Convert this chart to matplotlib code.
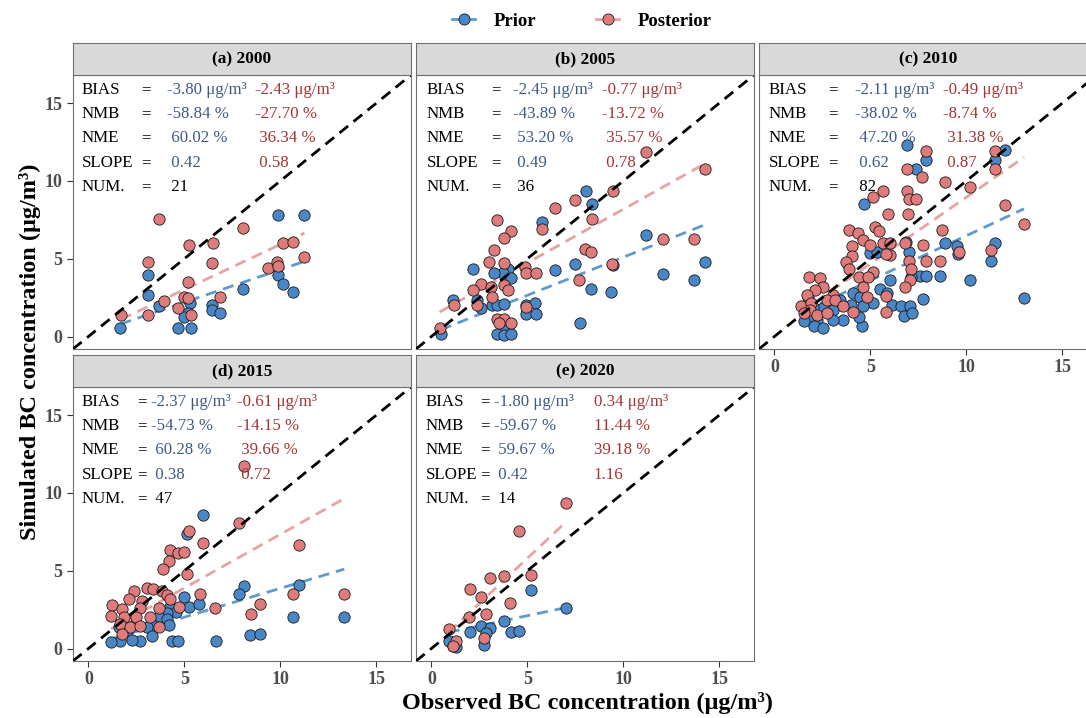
import matplotlib
matplotlib.use("Agg")
import matplotlib.pyplot as plt
from matplotlib.lines import Line2D
import numpy as np

# ---------------- data ----------------
panel_titles = ["(a) 2000", "(b) 2005", "(c) 2010", "(d) 2015", "(e) 2020"]

a_prior_x = [9.86, 11.25, 3.09, 3.09, 8.06, 9.86, 10.14, 10.66, 3.66, 5.28, 5.17, 5.0, 6.46, 6.46, 6.84, 1.67, 4.65, 5.35]
a_prior_y = [7.79, 7.79, 3.96, 2.68, 3.04, 3.96, 3.38, 2.89, 1.94, 2.15, 1.51, 1.26, 2.04, 1.72, 1.51, 0.55, 0.55, 0.55]
a_post_x = [3.66, 8.06, 5.26, 6.48, 3.09, 6.46, 10.14, 10.66, 11.25, 9.34, 9.83, 9.86, 5.17, 3.96, 5.0, 5.17, 6.84, 4.65, 5.35, 3.09, 1.70]
a_post_y = [7.57, 7.0, 5.87, 5.98, 4.81, 4.70, 6.02, 6.08, 5.09, 4.38, 4.81, 4.55, 3.53, 2.30, 2.51, 2.47, 2.51, 1.83, 1.40, 1.36, 1.36]

b_prior_x = [8.07, 8.37, 5.76, 11.2, 14.24, 12.07, 13.66, 2.17, 4.0, 6.46, 7.5, 9.46, 3.73, 4.17, 3.26, 8.30, 9.34,
             1.13, 2.38, 2.60, 3.16, 3.44, 3.78, 4.95, 5.42, 4.95, 5.47, 3.78, 3.44, 3.78, 4.17, 7.72, 0.49]
b_prior_y = [9.38, 8.53, 7.36, 6.55, 4.81, 4.02, 3.64, 4.32, 4.32, 4.28, 4.64, 4.62, 4.06, 3.74, 4.06, 3.04, 2.89,
             2.32, 2.36, 1.83, 2.04, 2.04, 2.08, 2.04, 2.15, 1.45, 1.45, 0.66, 0.19, 0.13, 0.19, 0.87, 0.19]
b_post_x = [11.16, 14.24, 9.46, 7.5, 6.46, 8.37, 3.40, 5.76, 4.17, 3.78, 12.07, 13.66, 3.26, 8.02, 8.30, 2.99, 3.78, 4.86,
            4.95, 5.47, 9.38, 2.57, 2.17, 3.13, 3.78, 4.0, 3.16, 7.67, 1.18, 2.40, 4.95, 3.44, 3.78, 4.17, 0.43, 3.51]
b_post_y = [11.87, 10.76, 9.38, 8.74, 8.28, 7.57, 7.47, 6.94, 6.78, 6.36, 6.25, 6.25, 5.59, 5.63, 5.44, 4.81, 4.70, 4.49,
            4.06, 4.06, 4.66, 3.38, 3.0, 3.21, 3.30, 3.0, 2.57, 3.64, 2.04, 2.04, 1.89, 1.13, 1.13, 0.87, 0.55, 0.87]

c_prior_x = [6.91, 12.0, 11.48, 7.91, 7.39, 4.68, 4.97, 5.32, 7.01, 8.91, 9.50, 9.55, 11.5, 11.3, 10.19, 7.56, 7.91, 8.65,
             6.01, 7.13, 7.74, 5.49, 5.87, 4.11, 4.46, 5.15, 6.10, 6.61, 7.08, 6.74, 7.18, 3.42, 3.97, 4.63, 2.55, 3.04,
             3.59, 3.07, 2.21, 1.78, 2.04, 2.52, 4.54, 4.42, 1.73, 2.0, 1.52, 6.87, 13.0]
c_prior_y = [12.32, 11.98, 11.34, 11.34, 10.76, 8.53, 5.34, 5.44, 5.44, 5.98, 5.81, 5.29, 6.02, 4.83, 3.64, 3.89, 3.89, 3.89,
             3.66, 3.85, 2.40, 3.04, 2.79, 2.79, 2.57, 2.13, 2.04, 1.98, 1.98, 1.34, 1.49, 2.34, 2.04, 1.98, 1.83, 1.72,
             1.08, 1.08, 1.08, 1.28, 0.66, 0.55, 0.68, 1.28, 2.53, 1.89, 0.98, 6.08, 2.47]
c_post_x = [7.88, 11.48, 11.5, 6.91, 7.70, 8.91, 10.19, 6.91, 5.66, 5.15, 7.01, 7.39, 12.0, 13.0, 5.92, 6.96,
            3.90, 4.37, 5.23, 5.46, 4.63, 4.97, 4.02, 5.66, 6.0, 6.79, 8.74, 7.74, 6.04, 5.83, 4.02, 3.73, 7.01, 7.91,
            8.6, 9.6, 11.28, 3.90, 5.15, 7.13, 4.42, 4.85, 7.08, 1.78, 2.38, 2.55, 2.12, 4.63, 6.79, 1.69, 3.04, 1.38,
            1.90, 2.73, 3.16, 3.59, 4.80, 5.83, 1.86, 2.21, 2.76, 4.11, 5.83, 1.54]
c_post_y = [11.89, 11.89, 10.76, 10.76, 10.27, 9.91, 9.59, 9.38, 9.38, 8.95, 8.85, 8.85, 8.42, 7.21, 7.85, 7.85,
            6.87, 6.62, 7.04, 6.79, 6.23, 5.87, 5.81, 6.02, 5.98, 6.02, 6.87, 5.87, 5.23, 5.29, 5.17, 4.81, 4.85, 4.85,
            4.85, 5.44, 5.59, 4.32, 4.17, 4.32, 3.85, 3.81, 3.64, 3.85, 3.75, 3.17, 3.0, 3.19, 3.17, 2.68, 2.68, 1.98,
            2.13, 2.34, 2.34, 1.98, 2.57, 2.62, 1.68, 1.40, 1.49, 1.60, 1.60, 1.53]

d_prior_x = [5.97, 8.09, 7.83, 10.95, 10.66, 13.33, 8.43, 8.92, 6.65, 5.14, 4.97, 5.22, 5.75, 4.27, 4.58, 4.1, 3.66, 4.1,
             4.18, 3.49, 3.06, 2.41, 1.58, 2.01, 3.32, 2.71, 2.27, 1.67, 1.18, 4.36, 4.65]
d_prior_y = [8.60, 4.02, 3.53, 4.07, 2.0, 2.0, 0.89, 0.94, 0.47, 7.36, 3.32, 2.66, 2.87, 2.66, 2.34, 2.28, 2.0, 1.89,
             1.53, 1.47, 1.36, 1.57, 1.36, 1.10, 0.83, 0.51, 0.55, 0.47, 0.40, 0.51, 0.47]
d_post_x = [8.09, 7.83, 10.95, 13.33, 10.66, 8.92, 8.47, 6.61, 5.22, 5.97, 4.27, 4.65, 5.0, 4.18, 3.89, 5.14, 3.06, 3.37,
            2.36, 3.84, 4.1, 4.24, 2.1, 2.79, 5.83, 1.23, 1.75, 2.67, 3.66, 4.7, 1.18, 1.84, 2.5, 3.23, 1.67, 2.19, 2.71,
            3.66, 1.75]
d_post_y = [11.74, 8.06, 6.68, 3.53, 3.53, 2.89, 2.21, 2.60, 7.53, 6.79, 6.36, 6.15, 6.21, 5.62, 5.09, 4.81, 3.91, 3.81,
            3.70, 3.70, 3.45, 3.19, 3.19, 3.06, 3.49, 2.81, 2.57, 2.59, 2.62, 2.66, 2.11, 2.04, 2.04, 2.0, 1.57, 1.36, 1.47,
            1.36, 0.94]

e_prior_x = [7.03, 5.17, 3.78, 2.57, 3.06, 2.0, 2.86, 4.14, 4.55, 0.90, 2.74, 1.30, 1.13]
e_prior_y = [2.60, 3.77, 1.79, 1.47, 1.30, 1.09, 0.98, 1.09, 1.15, 0.51, 0.25, 0.08, 0.19]
e_post_x = [7.03, 4.55, 3.78, 5.17, 3.04, 2.0, 2.57, 4.11, 2.86, 1.94, 0.90, 2.74, 1.30, 1.13]
e_post_y = [9.34, 7.53, 4.66, 4.70, 4.51, 3.81, 3.28, 2.91, 2.21, 2.0, 1.26, 0.68, 0.51, 0.19]

prior_x = [a_prior_x, b_prior_x, c_prior_x, d_prior_x, e_prior_x]
prior_y = [a_prior_y, b_prior_y, c_prior_y, d_prior_y, e_prior_y]
post_x = [a_post_x, b_post_x, c_post_x, d_post_x, e_post_x]
post_y = [a_post_y, b_post_y, c_post_y, d_post_y, e_post_y]

# fitted lines (slope, intercept)
prior_fit_slope = [0.42, 0.49, 0.575, 0.37, 0.26]
prior_fit_icpt = [0.10, 0.20, 0.73, 0.17, 0.81]
post_fit_slope = [0.58, 0.69, 0.855, 0.69, 1.16]
post_fit_icpt = [0.12, 1.28, 0.40, 0.44, 0.0]

stat_names = ["BIAS", "NMB", "NME", "SLOPE", "NUM."]
prior_bias = ["-3.80 μg/m³", "-2.45 μg/m³", "-2.11 μg/m³", "-2.37 μg/m³", "-1.80 μg/m³"]
post_bias = ["-2.43 μg/m³", "-0.77 μg/m³", "-0.49 μg/m³", "-0.61 μg/m³", "0.34 μg/m³"]
prior_nmb = ["-58.84 %", "-43.89 %", "-38.02 %", "-54.73 %", "-59.67 %"]
post_nmb = ["-27.70 %", "-13.72 %", "-8.74 %", "-14.15 %", "11.44 %"]
prior_nme = [" 60.02 %", " 53.20 %", " 47.20 %", " 60.28 %", " 59.67 %"]
post_nme = [" 36.34 %", " 35.57 %", " 31.38 %", " 39.66 %", "39.18 %"]
prior_slope = [" 0.42", " 0.49", " 0.62", " 0.38", " 0.42"]
post_slope = [" 0.58", " 0.78", " 0.87", " 0.72", "1.16"]
num_obs = [" 21", " 36", " 82", " 47", " 14"]

# ---------------- style ----------------
BLUE = "#4A87C7"
RED = "#E07B7B"
BLUE_LINE = "#5E9ACB"
RED_LINE = "#E8A2A2"
BLUE_TXT = "#3D5A86"
RED_TXT = "#A83232"
SERIF = ["Liberation Serif", "DejaVu Serif"]
plt.rcParams["font.family"] = SERIF

W, H = 1086, 718
fig = plt.figure(figsize=(W / 100, H / 100), dpi=100)

pw, ph = 338, 274
col_left = [73, 416, 759]
row_top = [75, 387]
strip_h = 32
positions = [(0, 0), (0, 1), (0, 2), (1, 0), (1, 1)]

# text column offsets (pixels from panel left): label, "=", prior value, posterior value
txt_cols = [(9, 68, 94, 182), (11, 75, 97, 186), (10, 69, 96, 184), (9, 64, 78, 164), (10, 64, 78, 178)]
line_off = [15, 39, 63, 88, 112]
FS = 12.2

lim = (-0.8, 16.8)
for i, (r, c) in enumerate(positions):
    l = col_left[c]
    t = row_top[r]
    ax = fig.add_axes([l / W, 1 - (t + ph) / H, pw / W, ph / H])
    sax = fig.add_axes([l / W, 1 - t / H, pw / W, strip_h / H])
    sax.set_facecolor("#D9D9D9")
    sax.set_xticks([]); sax.set_yticks([])
    for s in sax.spines.values():
        s.set_color("#6F6F6F"); s.set_linewidth(0.8)
    sax.text(0.5, 0.5, panel_titles[i], ha="center", va="center", fontsize=12.5,
             fontweight="bold", transform=sax.transAxes)

    ax.set_xlim(lim); ax.set_ylim(lim)
    for s in ax.spines.values():
        s.set_color("#6F6F6F"); s.set_linewidth(0.8)

    # fitted lines
    px = np.array(prior_x[i]); qx = np.array(post_x[i])
    xs = np.array([px.min(), px.max()])
    ax.plot(xs, prior_fit_icpt[i] + prior_fit_slope[i] * xs, ls=(0, (4, 2.5)), color=BLUE_LINE, lw=2.0, zorder=2)
    xs = np.array([qx.min(), qx.max()])
    ax.plot(xs, post_fit_icpt[i] + post_fit_slope[i] * xs, ls=(0, (4, 2.5)), color=RED_LINE, lw=2.0, zorder=2)

    ax.scatter(prior_x[i], prior_y[i], s=66, c=BLUE, edgecolors="#1a1a1a", linewidths=0.6, zorder=3)
    ax.scatter(post_x[i], post_y[i], s=66, c=RED, edgecolors="#1a1a1a", linewidths=0.6, zorder=3)

    ax.axline((0, 0), slope=1, color="black", ls=(0, (4, 2.5)), lw=2.0, zorder=4)

    # ticks
    ax.set_xticks([0, 5, 10, 15]); ax.set_yticks([0, 5, 10, 15])
    ax.tick_params(length=4, width=0.8, color="#333333", labelsize=13, labelcolor="#4D4D4D")
    if c == 0:
        ax.set_yticklabels(["0", "5", "10", "15"], fontweight="bold")
    else:
        ax.tick_params(axis="y", left=False, labelleft=False)
    if i in (2, 3, 4):
        ax.set_xticklabels(["0", "5", "10", "15"], fontweight="bold")
    else:
        ax.tick_params(axis="x", bottom=False, labelbottom=False)

    # stats text
    cx = [v / pw for v in txt_cols[i]]
    vals_p = [prior_bias[i], prior_nmb[i], prior_nme[i], prior_slope[i], num_obs[i]]
    vals_q = [post_bias[i], post_nmb[i], post_nme[i], post_slope[i], None]
    for k in range(5):
        yy = 1 - line_off[k] / ph
        ax.text(cx[0], yy, stat_names[k], transform=ax.transAxes, ha="left", va="center", fontsize=FS)
        ax.text(cx[1], yy, "=", transform=ax.transAxes, ha="left", va="center", fontsize=FS)
        ax.text(cx[2], yy, vals_p[k], transform=ax.transAxes, ha="left", va="center", fontsize=FS,
                color=("black" if k == 4 else BLUE_TXT))
        if vals_q[k] is not None:
            ax.text(cx[3], yy, vals_q[k], transform=ax.transAxes, ha="left", va="center", fontsize=FS,
                    color=RED_TXT)

# axis titles
fig.text(30 / W, 1 - 352 / H, "Simulated BC concentration (μg/m³)", rotation=90, ha="center", va="center",
         fontsize=17.5, fontweight="bold")
fig.text(587 / W, 1 - 703 / H, "Observed BC concentration (μg/m³)", ha="center", va="center",
         fontsize=17.5, fontweight="bold")

# legend
handles = [Line2D([0], [0], color=BLUE_LINE, lw=2, marker="o", markersize=8, markerfacecolor=BLUE,
                  markeredgecolor="#1a1a1a", markeredgewidth=0.6),
           Line2D([0], [0], color=RED_LINE, lw=2, marker="o", markersize=8, markerfacecolor=RED,
                  markeredgecolor="#1a1a1a", markeredgewidth=0.6)]
leg = fig.legend(handles, ["Prior", "Posterior"], loc="center", bbox_to_anchor=(582 / W, 1 - 21 / H),
                 ncol=2, frameon=False, handlelength=1.2, columnspacing=3.2, handletextpad=1.0,
                 prop={"family": SERIF, "weight": "bold", "size": 13.5})

fig.savefig("out.png", dpi=100)
